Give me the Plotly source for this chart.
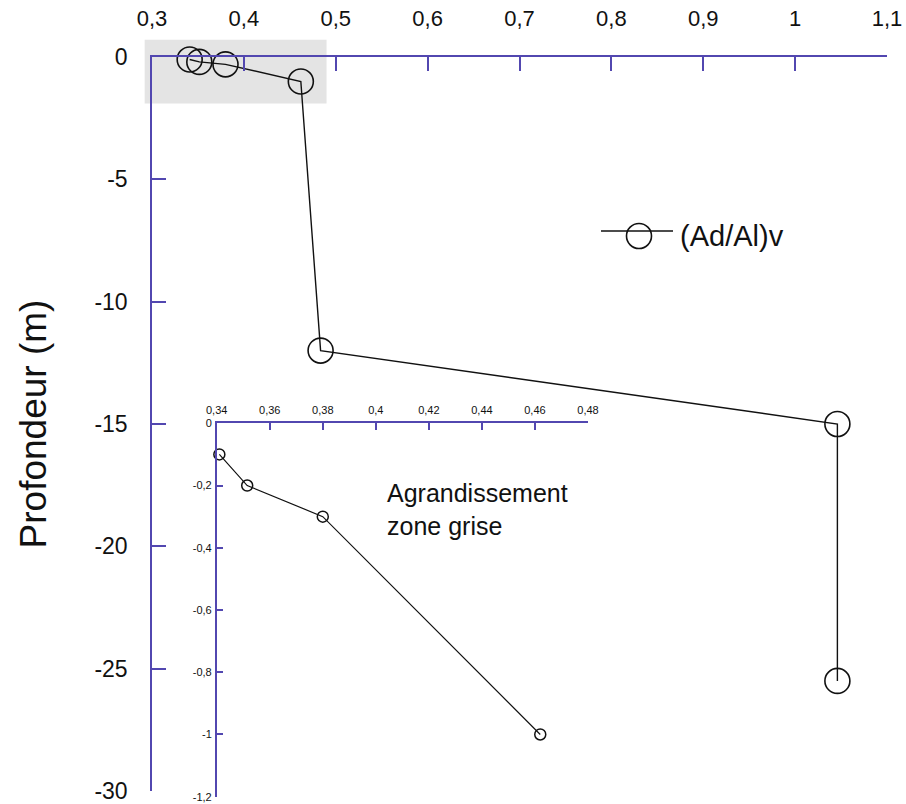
import plotly.graph_objects as go

# ---- data ----
ratio_main = [0.341, 0.3515, 0.380, 0.462, 0.4835, 1.046, 1.046]
depth_main = [-0.1, -0.2, -0.3, -1.0, -12.0, -15.0, -25.5]

ratio_zoom = [0.341, 0.3515, 0.380, 0.462]
depth_zoom = [-0.1, -0.2, -0.3, -1.0]

main_x_ticks = [0.3, 0.4, 0.5, 0.6, 0.7, 0.8, 0.9, 1.0, 1.1]
main_x_text = ["0,3", "0,4", "0,5", "0,6", "0,7", "0,8", "0,9", "1", "1,1"]
main_y_ticks = [0, -5, -10, -15, -20, -25, -30]
main_y_text = ["0", "-5", "-10", "-15", "-20", "-25", "-30"]

zoom_x_ticks = [0.34, 0.36, 0.38, 0.40, 0.42, 0.44, 0.46, 0.48]
zoom_x_text = ["0,34", "0,36", "0,38", "0,4", "0,42", "0,44", "0,46", "0,48"]
zoom_y_ticks = [0, -0.2, -0.4, -0.6, -0.8, -1.0, -1.2]
zoom_y_text = ["0", "-0,2", "-0,4", "-0,6", "-0,8", "-1", "-1,2"]

grey_zone_x = [0.292, 0.490]
grey_zone_y = [0.7, -1.9]

series_name = "(Ad/Al)v"

# ---- layout constants (page pixels; body margin removed below) ----
W, H = 906, 804
PLOT_L, PLOT_R, PLOT_T, PLOT_B = 152, 887, 57, 797
ML, MR, MT, MB = PLOT_L, W - PLOT_R, PLOT_T, H - PLOT_B
AXC = "#5247b0"
FONT = "Liberation Sans, Arial, sans-serif"

plot_w = PLOT_R - PLOT_L
plot_h = PLOT_B - PLOT_T

def px_x(px):
    return (px - PLOT_L) / plot_w

def px_y(py):
    return (PLOT_B - py) / plot_h

main_x_range = [0.3, 1.1]
main_y_range = [-30, 0]
main_y_dom = [px_y(791), 1.0]

def to_paper_x(v):
    return (v - main_x_range[0]) / (main_x_range[1] - main_x_range[0])

def to_paper_y(v):
    f = (v - main_y_range[0]) / (main_y_range[1] - main_y_range[0])
    return main_y_dom[0] + f * (main_y_dom[1] - main_y_dom[0])

fig = go.Figure()

fig.add_trace(go.Scatter(
    x=ratio_main, y=depth_main, mode="lines+markers", name=series_name,
    line=dict(color="#111111", width=1.4),
    marker=dict(symbol="circle-open", size=25, color="#111111", line=dict(width=1.6)),
    cliponaxis=False, showlegend=False, xaxis="x", yaxis="y",
))

fig.add_trace(go.Scatter(
    x=ratio_zoom, y=depth_zoom, mode="lines+markers", name=series_name,
    line=dict(color="#111111", width=1.2),
    marker=dict(symbol="circle-open", size=11, color="#111111", line=dict(width=1.5)),
    cliponaxis=False, showlegend=False, xaxis="x2", yaxis="y2",
))

# grey zone (paper coords so it may extend above the top axis)
shapes = [dict(
    type="rect", xref="paper", yref="paper", layer="below",
    x0=to_paper_x(grey_zone_x[0]), x1=to_paper_x(grey_zone_x[1]),
    y0=to_paper_y(grey_zone_y[1]), y1=to_paper_y(grey_zone_y[0]),
    fillcolor="#e4e4e4", line=dict(width=0),
)]

# manual legend
leg_line_y = px_y(231)
leg_y = px_y(236)
shapes.append(dict(type="line", xref="paper", yref="paper",
                   x0=px_x(601), x1=px_x(673), y0=leg_line_y, y1=leg_line_y,
                   line=dict(color="#111111", width=1.4)))
shapes.append(dict(type="circle", xref="paper", yref="paper",
                   xsizemode="pixel", ysizemode="pixel",
                   xanchor=px_x(639), yanchor=leg_y,
                   x0=-12.5, x1=12.5, y0=-12.5, y1=12.5,
                   fillcolor="rgba(0,0,0,0)", line=dict(color="#111111", width=1.6)))

annotations = [
    dict(xref="paper", yref="paper", x=px_x(678), y=leg_y,
         xanchor="left", yanchor="middle", showarrow=False,
         text=series_name, font=dict(family=FONT, size=29, color="#111111")),
    dict(xref="paper", yref="paper", x=px_x(385),
         y=px_y(509), xanchor="left", yanchor="middle",
         showarrow=False, align="left",
         text="Agrandissement<br>zone grise",
         font=dict(family=FONT, size=25, color="#111111")),
]

inset_x_dom = [px_x(216.7), px_x(588)]
inset_y_dom = [px_y(796.7), px_y(423.3)]

common = dict(showgrid=False, zeroline=False, showline=True, linecolor=AXC,
              linewidth=1.5, tickwidth=1.5, tickcolor=AXC, ticks="inside",
              automargin=False, ticklabeloverflow="allow")

fig.update_layout(
    width=W, height=H,
    margin=dict(l=ML, r=MR, t=MT, b=MB, autoexpand=False),
    paper_bgcolor="white", plot_bgcolor="rgba(0,0,0,0)",
    font=dict(family=FONT, color="#111111"),
    showlegend=False,
    shapes=shapes, annotations=annotations,
    xaxis=dict(
        range=main_x_range, side="top", anchor="y",
        tickvals=main_x_ticks, ticktext=main_x_text,
        ticklen=14, ticklabelstandoff=20,
        tickfont=dict(family=FONT, size=22, color="#111111"),
        **common,
    ),
    yaxis=dict(
        range=main_y_range, domain=main_y_dom, anchor="x",
        tickvals=main_y_ticks, ticktext=main_y_text,
        ticklen=14, ticklabelstandoff=18,
        tickfont=dict(family=FONT, size=23, color="#111111"),
        title=dict(text="Profondeur (m)", standoff=36,
                   font=dict(family=FONT, size=37, color="#111111")),
        **common,
    ),
    xaxis2=dict(
        range=[0.34, 0.48], domain=inset_x_dom, side="top", anchor="y2",
        tickvals=zoom_x_ticks, ticktext=zoom_x_text,
        ticklen=7, ticklabelstandoff=3,
        tickfont=dict(family=FONT, size=11, color="#111111"),
        **common,
    ),
    yaxis2=dict(
        range=[-1.2, 0], domain=inset_y_dom, anchor="x2",
        tickvals=zoom_y_ticks, ticktext=zoom_y_text,
        ticklen=7, ticklabelstandoff=1,
        tickfont=dict(family=FONT, size=11, color="#111111"),
        **common,
    ),
)

fig.write_html("out.html", config={"displayModeBar": False},
               post_script="document.body.style.margin='0px';")
